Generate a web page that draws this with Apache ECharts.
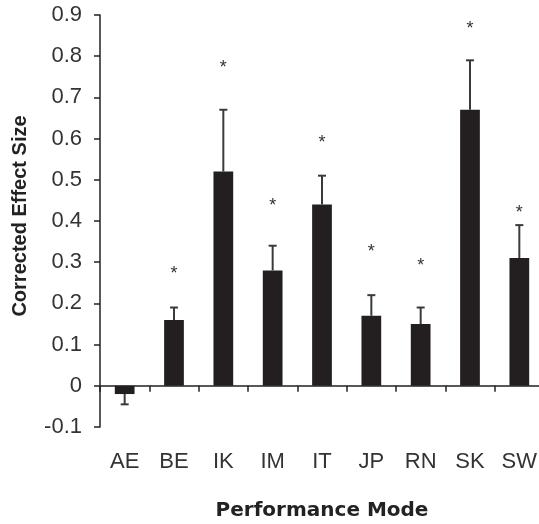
<!DOCTYPE html>
<html>
<head>
<meta charset="utf-8">
<script src="https://cdn.jsdelivr.net/npm/echarts@6/dist/echarts.min.js"></script>
<style>
  html, body { margin: 0; padding: 0; background: #fff; }
  #chart { width: 539px; height: 524px; }
</style>
</head>
<body>
<div id="chart"></div>
<script>
// categories and values
const modes = ['AE', 'BE', 'IK', 'IM', 'IT', 'JP', 'RN', 'SK', 'SW'];
const effectSize = [-0.02, 0.16, 0.52, 0.28, 0.44, 0.17, 0.15, 0.67, 0.31];
const errorEnd = [-0.045, 0.19, 0.67, 0.34, 0.51, 0.22, 0.19, 0.79, 0.39];
// where the significance stars sit (null = no star)
const starAt = [null, 0.28, 0.78, 0.445, 0.60, 0.335, 0.30, 0.875, 0.43];

const chart = echarts.init(document.getElementById('chart'));

const FONT = '"Liberation Sans", Arial, sans-serif';

const option = {
  animation: false,
  backgroundColor: '#fff',
  grid: { left: 100, top: 15, right: -5, bottom: 97, outerBoundsMode: 'none', containLabel: false },
  xAxis: {
    type: 'category',
    data: modes,
    axisLine: { onZero: true, lineStyle: { color: '#222', width: 1.5 } },
    axisTick: { show: true, length: 6, lineStyle: { color: '#222', width: 1.5 } },
    // labels and name are laid out from the bottom of the grid
    axisLabel: { margin: 24, color: '#333', fontSize: 22, fontFamily: FONT },
    splitLine: { show: false },
    name: 'Performance Mode',
    nameLocation: 'middle',
    nameGap: 74,
    nameTextStyle: { color: '#222', fontSize: 20, fontWeight: 'bold', fontFamily: '"DejaVu Sans", sans-serif' }
  },
  yAxis: {
    type: 'value',
    min: -0.1,
    max: 0.9,
    interval: 0.1,
    axisLine: { show: true, lineStyle: { color: '#222', width: 1.5 } },
    axisTick: { show: true, length: 6, lineStyle: { color: '#222', width: 1.5 } },
    axisLabel: {
      margin: 18, color: '#333', fontSize: 22, fontFamily: FONT,
      formatter: (v) => (Math.round(v * 10) / 10).toString()
    },
    splitLine: { show: false },
    name: 'Corrected Effect Size',
    nameLocation: 'middle',
    nameGap: 70,
    nameTextStyle: {
      color: '#222', fontSize: 20, fontWeight: 'bold', fontFamily: FONT,
      padding: [0, 0, 0, 10]
    }
  },
  series: [
    {
      type: 'bar',
      data: effectSize,
      barWidth: '40%',
      itemStyle: { color: '#231f20' },
      z: 2
    },
    {
      type: 'custom',
      data: modes.map((m, i) => [i, effectSize[i], errorEnd[i]]),
      renderItem: (params, api) => {
        const base = api.coord([api.value(0), api.value(1)]);
        const end = api.coord([api.value(0), api.value(2)]);
        const style = { stroke: '#3a3a3a', lineWidth: 2 };
        return {
          type: 'group',
          children: [
            { type: 'line', shape: { x1: base[0], y1: base[1], x2: end[0], y2: end[1] }, style },
            { type: 'line', shape: { x1: end[0] - 4, y1: end[1], x2: end[0] + 4, y2: end[1] }, style }
          ]
        };
      },
      z: 3
    },
    {
      type: 'custom',
      data: modes.map((m, i) => [i, starAt[i]]).filter(d => d[1] !== null),
      renderItem: (params, api) => {
        const p = api.coord([api.value(0), api.value(1)]);
        return {
          type: 'text',
          style: {
            text: '*', x: p[0], y: p[1] + 4,
            align: 'center', verticalAlign: 'middle',
            fill: '#333', fontSize: 18, fontFamily: FONT
          }
        };
      },
      z: 3
    }
  ]
};

chart.setOption(option);
</script>
</body>
</html>
